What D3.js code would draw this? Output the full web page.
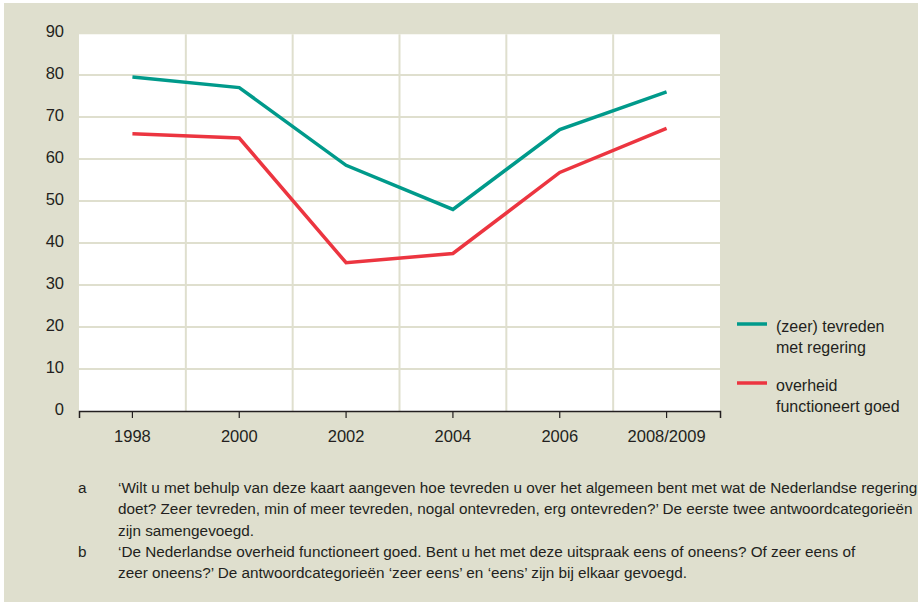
<!DOCTYPE html>
<html>
<head>
<meta charset="utf-8">
<script src="https://cdn.jsdelivr.net/npm/d3@7"></script>
<style>
  body { margin: 0; background: #fff; }
  svg text { font-family: "Liberation Sans", Arial, sans-serif; fill: #231f20; }
</style>
</head>
<body>
<div id="chart"></div>
<script>
// Data
const years = ["1998", "2000", "2002", "2004", "2006", "2008/2009"];
const tevreden = [79.5, 77, 58.5, 48, 67, 76];
const overheid = [66, 65, 35.3, 37.5, 56.8, 67.3];
const yTicks = [0, 10, 20, 30, 40, 50, 60, 70, 80, 90];
const seriesNames = [["(zeer) tevreden", "met regering"], ["overheid", "functioneert goed"]];
const seriesColors = ["#009a8b", "#ec3540"];
const notes = [
  ["a", "\u2018Wilt u met behulp van deze kaart aangeven hoe tevreden u over het algemeen bent met wat de Nederlandse regering",
        "doet? Zeer tevreden, min of meer tevreden, nogal ontevreden, erg ontevreden?\u2019 De eerste twee antwoordcategorie\u00ebn",
        "zijn samengevoegd."],
  ["b", "\u2018De Nederlandse overheid functioneert goed. Bent u het met deze uitspraak eens of oneens? Of zeer eens of",
        "zeer oneens?\u2019 De antwoordcategorie\u00ebn \u2018zeer eens\u2019 en \u2018eens\u2019 zijn bij elkaar gevoegd."]
];

const width = 919;
const height = 604;
const svg = d3.select("#chart")
  .append("svg")
  .attr("width", width)
  .attr("height", height);

// Background panel
svg.append("rect")
  .attr("x", 4).attr("y", 3)
  .attr("width", width - 5).attr("height", height - 5)
  .attr("fill", "#dfdfce");

// Scales
const x = d3.scaleBand()
  .domain(years)
  .range([79, 720]);
const y = d3.scaleLinear()
  .domain([0, 90])
  .range([411, 33]);

// Plot area
svg.append("rect")
  .attr("x", 79).attr("y", y(89.7))
  .attr("width", 720 - 79).attr("height", y(0) - y(89.7))
  .attr("fill", "#fff");

// Grid lines
svg.append("g")
  .selectAll("line")
  .data(yTicks.filter(d => d > 0 && d < 90))
  .enter().append("line")
  .attr("x1", 79).attr("x2", 720)
  .attr("y1", d => y(d)).attr("y2", d => y(d))
  .attr("stroke", "#dfdfce")
  .attr("stroke-width", 2);

svg.append("g")
  .selectAll("line")
  .data(years.slice(1))
  .enter().append("line")
  .attr("x1", d => x(d)).attr("x2", d => x(d))
  .attr("y1", y(89.7)).attr("y2", y(0))
  .attr("stroke", "#dfdfce")
  .attr("stroke-width", 2);

// Axes
const yAxis = svg.append("g")
  .attr("transform", "translate(79, 0)")
  .call(d3.axisLeft(y).tickValues(yTicks).tickSize(0).tickPadding(15));
yAxis.select(".domain").remove();
yAxis.selectAll("text")
  .style("font-size", "16.5px")
  .attr("dy", "0.2em");

const xAxis = svg.append("g")
  .attr("transform", `translate(0, ${y(0)})`)
  .call(d3.axisBottom(x).tickSizeOuter(0).tickSize(7).tickPadding(12));
xAxis.select(".domain")
  .attr("stroke", "#231f20")
  .attr("stroke-width", 1.5);
xAxis.selectAll(".tick line")
  .attr("stroke", "#231f20")
  .attr("stroke-width", 1.2);
xAxis.selectAll("text")
  .style("font-size", "16.5px");

// Lines
const line = d3.line()
  .x((d, i) => x(years[i]) + x.bandwidth() / 2)
  .y(d => y(d));

[tevreden, overheid].forEach((values, i) => {
  svg.append("path")
    .datum(values)
    .attr("d", line)
    .attr("fill", "none")
    .attr("stroke", seriesColors[i])
    .attr("stroke-width", 3.5)
    .attr("stroke-linejoin", "miter");
});

// Legend
const legend = svg.append("g").attr("transform", "translate(737, 324)");
seriesNames.forEach((names, i) => {
  const g = legend.append("g").attr("transform", `translate(0, ${i * 59})`);
  g.append("line")
    .attr("x1", 0).attr("x2", 30)
    .attr("y1", 0).attr("y2", 0)
    .attr("stroke", seriesColors[i])
    .attr("stroke-width", 3.5);
  names.forEach((t, j) => {
    g.append("text")
      .attr("x", 39).attr("y", 8 + j * 21)
      .style("font-size", "16px")
      .text(t);
  });
});

// Notes
const noteLines = [];
notes.forEach(n => {
  n.slice(1).forEach((t, j) => noteLines.push({ label: j === 0 ? n[0] : "", text: t }));
});
const noteG = svg.append("g");
noteLines.forEach((d, i) => {
  const ty = 493 + i * 21.3;
  if (d.label) {
    noteG.append("text").attr("x", 78).attr("y", ty).style("font-size", "15.3px").text(d.label);
  }
  noteG.append("text").attr("x", 118).attr("y", ty).style("font-size", "15.3px").text(d.text);
});
</script>
</body>
</html>
